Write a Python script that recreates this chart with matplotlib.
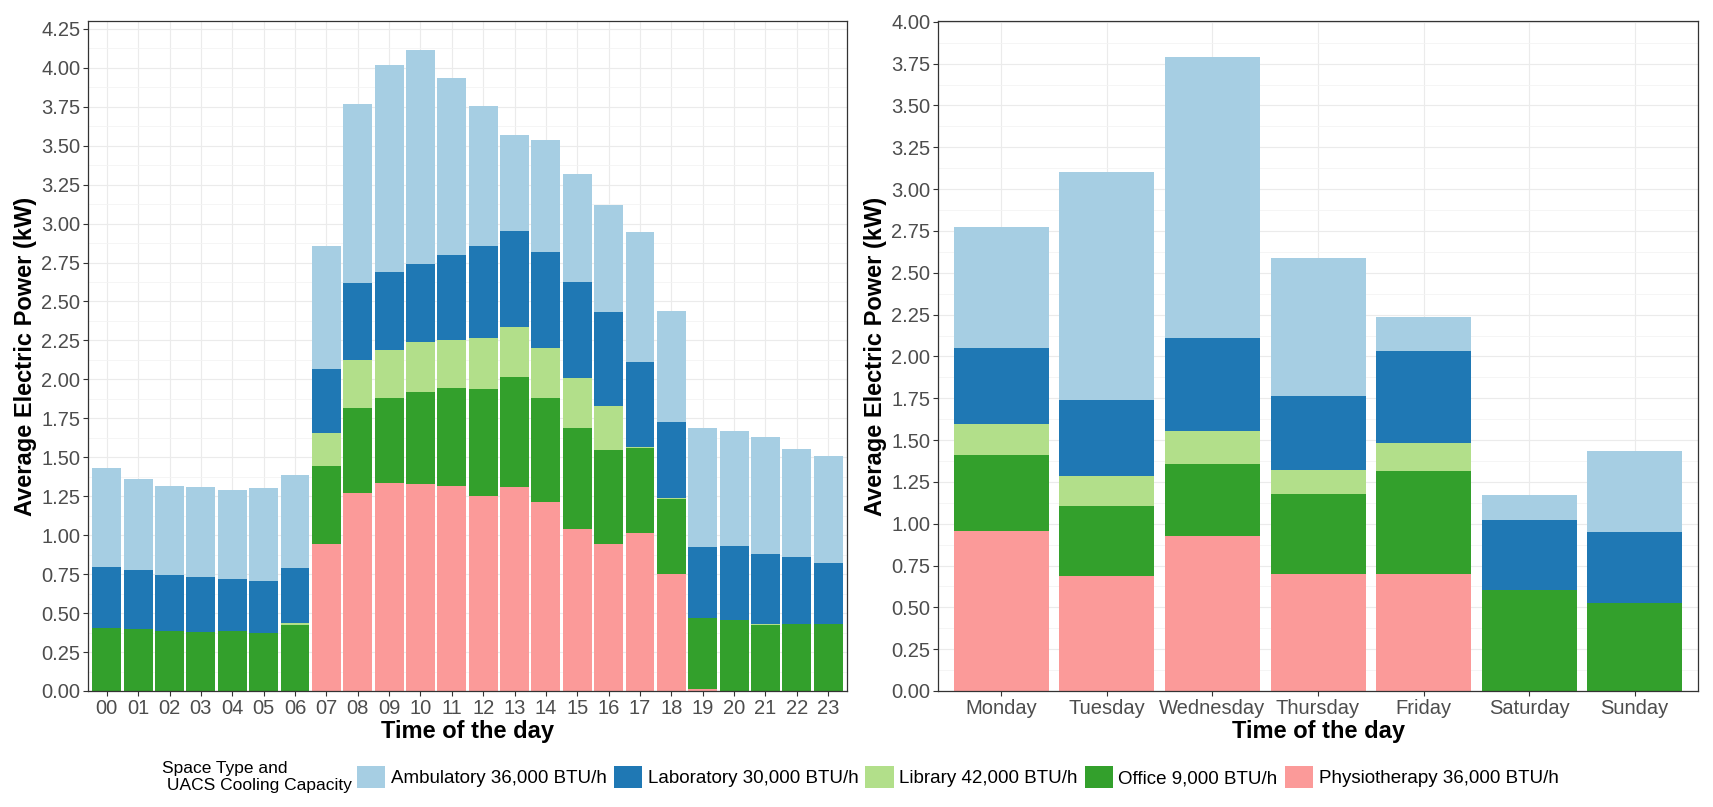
import matplotlib
matplotlib.use("Agg")
import matplotlib.pyplot as plt
from matplotlib.patches import Patch
import numpy as np

plt.rcParams['font.family'] = ['Liberation Sans', 'DejaVu Sans']

# ---------------- data ----------------
hours = ["00", "01", "02", "03", "04", "05", "06", "07", "08", "09", "10", "11",
         "12", "13", "14", "15", "16", "17", "18", "19", "20", "21", "22", "23"]
h_physio = [0, 0, 0, 0, 0, 0, 0, 0.944, 1.272, 1.336, 1.330, 1.317,
            1.253, 1.311, 1.214, 1.040, 0.944, 1.015, 0.751, 0.015, 0, 0, 0, 0]
h_office = [0.405, 0.398, 0.387, 0.379, 0.387, 0.374, 0.423, 0.501, 0.546, 0.546, 0.590, 0.629,
            0.687, 0.706, 0.668, 0.649, 0.603, 0.545, 0.482, 0.452, 0.454, 0.424, 0.430, 0.430]
h_library = [0, 0, 0, 0, 0, 0, 0.013, 0.212, 0.308, 0.308, 0.321, 0.309,
             0.328, 0.321, 0.321, 0.321, 0.283, 0.007, 0.007, 0, 0, 0.006, 0, 0]
h_lab = [0.392, 0.379, 0.358, 0.353, 0.332, 0.333, 0.354, 0.412, 0.495, 0.502, 0.502, 0.546,
         0.591, 0.617, 0.617, 0.617, 0.604, 0.546, 0.489, 0.457, 0.477, 0.450, 0.431, 0.393]
h_amb = [0.634, 0.585, 0.572, 0.579, 0.572, 0.597, 0.598, 0.787, 1.145, 1.326, 1.372, 1.133,
         0.895, 0.612, 0.714, 0.688, 0.682, 0.830, 0.713, 0.764, 0.738, 0.750, 0.692, 0.686]

days = ["Monday", "Tuesday", "Wednesday", "Thursday", "Friday", "Saturday", "Sunday"]
d_physio = [0.954, 0.685, 0.924, 0.701, 0.697, 0, 0]
d_office = [0.454, 0.418, 0.431, 0.474, 0.616, 0.601, 0.529]
d_library = [0.191, 0.181, 0.198, 0.144, 0.168, 0, 0]
d_lab = [0.450, 0.454, 0.557, 0.444, 0.552, 0.419, 0.419]
d_amb = [0.724, 1.365, 1.680, 0.828, 0.204, 0.150, 0.485]

series_names = ["Ambulatory 36,000 BTU/h", "Laboratory 30,000 BTU/h", "Library 42,000 BTU/h",
                "Office 9,000 BTU/h", "Physiotherapy 36,000 BTU/h"]
colors = ["#A6CEE3", "#1F78B4", "#B2DF8A", "#33A02C", "#FB9A99"]
legend_title = "Space Type and\n UACS Cooling Capacity"
x_title = "Time of the day"
y_title = "Average Electric Power (kW)"

# ---------------- figure ----------------
W, H = 1713, 807
fig = plt.figure(figsize=(W / 100, H / 100), dpi=100)

def px_axes(x0, x1, y0, y1):
    return fig.add_axes([x0 / W, 1 - y1 / H, (x1 - x0) / W, (y1 - y0) / H])

ax1 = px_axes(88, 847, 21, 691)
ax2 = px_axes(938, 1698, 21, 691)

tick_color = "#4D4D4D"
grid_color = "#EBEBEB"


def draw(ax, labels, stacks, width, ymax, yticks):
    x = np.arange(len(labels))
    bottom = np.zeros(len(labels))
    # stacking order bottom -> top: Physio, Office, Library, Laboratory, Ambulatory
    order = [4, 3, 2, 1, 0]
    for idx in order:
        vals = np.array(stacks[idx], dtype=float)
        ax.bar(x, vals, width=width, bottom=bottom, color=colors[idx],
               linewidth=0, zorder=3)
        bottom += vals
    ax.set_xlim(-0.6, len(labels) - 1 + 0.6)
    ax.set_ylim(0, ymax)
    ax.set_xticks(x)
    ax.set_xticklabels(labels)
    ax.set_yticks(yticks)
    ax.set_yticklabels([f"{v:.2f}" for v in yticks])
    minors = np.arange(0.125, ymax, 0.25)
    ax.set_yticks(minors, minor=True)
    ax.grid(True, which="major", color=grid_color, linewidth=0.85, zorder=0)
    ax.grid(True, which="minor", axis="y", color="#F3F3F3", linewidth=0.55, zorder=0)
    ax.set_axisbelow(True)
    ax.tick_params(axis="both", which="major", length=3.5, width=0.8, color="#333333",
                   labelsize=14.5, labelcolor=tick_color, pad=2)
    ax.tick_params(axis="both", which="minor", length=0)
    for s in ax.spines.values():
        s.set_color("#333333")
        s.set_linewidth(0.9)
        s.set_zorder(5)
    ax.set_xlabel(x_title, fontsize=17, fontweight="bold", color="black", labelpad=2)
    ax.set_ylabel(y_title, fontsize=17, fontweight="bold", color="black", labelpad=3)


draw(ax1, hours, [h_amb, h_lab, h_library, h_office, h_physio], 0.92, 4.30,
     np.arange(0, 4.26, 0.25))
draw(ax2, days, [d_amb, d_lab, d_library, d_office, d_physio], 0.9, 4.005,
     np.arange(0, 4.01, 0.25))

# ---------------- legend ----------------
handles = [Patch(facecolor=c, edgecolor="none") for c in colors]
fig.legend(handles, series_names, loc="center left",
           bbox_to_anchor=(357 / W, 1 - 777 / H), ncol=5, frameon=False,
           fontsize=13.5, handlelength=1.5, handleheight=1.5,
           handletextpad=0.3, columnspacing=0.38, borderaxespad=0, borderpad=0)
fig.text(162 / W, 1 - 777 / H, legend_title, fontsize=12.5, ha="left", va="center",
         color="black", linespacing=1.15)

fig.savefig("out.png", dpi=100, facecolor="white")
